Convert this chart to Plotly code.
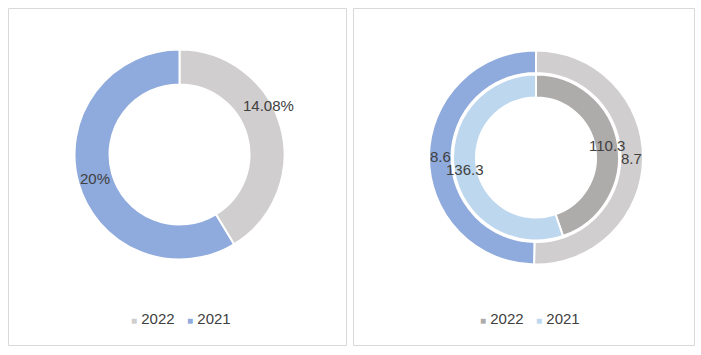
import math
import plotly.graph_objects as go

# ---------------- data ----------------
categories = ["2022", "2021"]
left_values = [14.08, 20]
left_labels = ["14.08%", "20%"]
right_outer_values = [8.7, 8.6]
right_inner_values = [110.3, 136.3]

# ---------------- style ----------------
W, H = 701, 355
FONT = "Liberation Sans"
TXT = "#404040"
left_colors = ["#D0CECE", "#8FAADC"]
outer_colors = ["#D0CECE", "#8FAADC"]
inner_colors = ["#AEABAB", "#BDD7EE"]


def px(x):
    return x / W


def py(y):
    return 1 - y / H


def domain(cx, cy, r):
    return dict(x=[px(cx - r), px(cx + r)], y=[py(cy + r), py(cy - r)])


fig = go.Figure()

# left donut
LCX, LCY, LR, LRI = 179.5, 154.5, 105, 70
fig.add_trace(go.Pie(labels=categories, values=left_values, hole=LRI / LR,
                     sort=False, direction="clockwise", rotation=0,
                     marker=dict(colors=left_colors, line=dict(color="white", width=2)),
                     textinfo="none", hoverinfo="label+value", showlegend=False,
                     domain=domain(LCX, LCY, LR)))

# right donut (two rings)
RCX, RCY = 536, 157.5
RO, ROI = 107, 84.5
RI, RII = 83, 60
fig.add_trace(go.Pie(labels=categories, values=right_outer_values, hole=ROI / RO,
                     sort=False, direction="clockwise", rotation=0,
                     marker=dict(colors=outer_colors, line=dict(color="white", width=2)),
                     textinfo="none", hoverinfo="label+value", showlegend=False,
                     domain=domain(RCX, RCY, RO)))
fig.add_trace(go.Pie(labels=categories, values=right_inner_values, hole=RII / RI,
                     sort=False, direction="clockwise", rotation=0,
                     marker=dict(colors=inner_colors, line=dict(color="white", width=2)),
                     textinfo="none", hoverinfo="label+value", showlegend=False,
                     domain=domain(RCX, RCY, RI)))


def ring_labels(values, texts, cx, cy, r_mid, nudges=None):
    out = []
    total = sum(values)
    cum = 0
    for i, (v, t) in enumerate(zip(values, texts)):
        mid = (cum + v / 2) / total * 2 * math.pi
        cum += v
        x = cx + r_mid * math.sin(mid)
        y = cy - r_mid * math.cos(mid)
        if nudges and i in nudges:
            x += nudges[i][0]
            y += nudges[i][1]
        out.append(dict(x=px(x), y=py(y), xref="paper", yref="paper", text=t,
                        showarrow=False, xanchor="center", yanchor="middle",
                        font=dict(family=FONT, size=15, color=TXT)))
    return out


annotations = []
annotations += ring_labels(left_values, left_labels, LCX, LCY, (LR + LRI) / 2,
                           nudges={0: (5, -25)})
annotations += ring_labels(right_outer_values, [str(v) for v in right_outer_values],
                           RCX, RCY, (RO + ROI) / 2)
annotations += ring_labels(right_inner_values, [str(v) for v in right_inner_values],
                           RCX, RCY, (RI + RII) / 2)


def legend(cx, cy, colors):
    parts = []
    for c, lab in zip(colors, categories):
        parts.append(f"<span style='color:{c};font-size:10px'>■</span> {lab}")
    return dict(x=px(cx), y=py(cy), xref="paper", yref="paper",
                text="&nbsp;&nbsp;&nbsp;".join(parts), showarrow=False,
                xanchor="center", yanchor="middle",
                font=dict(family=FONT, size=15, color=TXT))


annotations.append(legend(181, 318, left_colors))
annotations.append(legend(530, 318, inner_colors))

shapes = [
    dict(type="rect", xref="paper", yref="paper", x0=px(8.5), x1=px(346.5),
         y0=py(345.5), y1=py(8.5), line=dict(color="#D9D9D9", width=1)),
    dict(type="rect", xref="paper", yref="paper", x0=px(353.5), x1=px(694.5),
         y0=py(345.5), y1=py(8.5), line=dict(color="#D9D9D9", width=1)),
]

fig.update_layout(width=W, height=H, margin=dict(l=0, r=0, t=0, b=0),
                  paper_bgcolor="white", plot_bgcolor="white",
                  annotations=annotations, shapes=shapes, showlegend=False)

fig.write_html("out.html", config={"displayModeBar": False},
               post_script="document.body.style.margin='0';")
